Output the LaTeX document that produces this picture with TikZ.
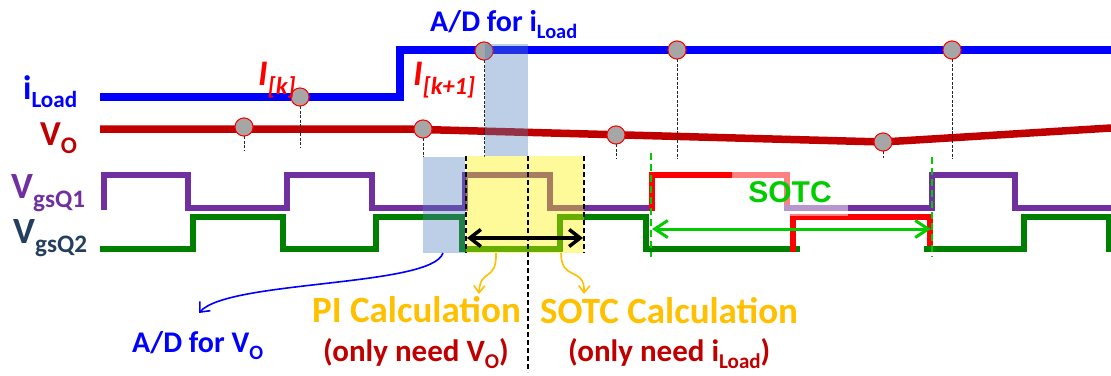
\documentclass[tikz,border=0pt]{standalone}
\usepackage{fontspec}
\setmainfont{Carlito}
\newfontfamily\arialfont{Liberation Sans}
\usetikzlibrary{arrows.meta}
\definecolor{cBlue}{RGB}{0,0,255}
\definecolor{cDRed}{RGB}{192,0,0}
\definecolor{cPurple}{RGB}{112,48,160}
\definecolor{cGreen}{RGB}{0,128,0}
\definecolor{cRed}{RGB}{255,0,0}
\definecolor{cSlate}{RGB}{36,62,96}
\definecolor{cGold}{RGB}{255,192,0}
\definecolor{cLime}{RGB}{0,204,0}
\definecolor{cGray}{RGB}{166,166,166}
\definecolor{cAD}{RGB}{79,129,189}
\newcommand{\lowsub}[1]{\raisebox{-0.25em}{\scalebox{0.68}{#1}}}
\newcommand{\fsz}[1]{\fontsize{#1}{#1}\selectfont}
\begin{document}
\begin{tikzpicture}[x=1pt,y=-1pt,
  sig/.style={line width=7.5pt,line join=miter},
  wave/.style={line width=6.5pt,line join=miter,line cap=rect},
  sample/.style={circle,draw=cRed,line width=0.9pt,fill=cGray,minimum size=18pt,inner sep=0pt},
  drop/.style={line width=1pt,dash pattern=on 3pt off 1.5pt,black!85},
  borderdash/.style={line width=1.8pt,dash pattern=on 5pt off 3pt,black},
  txt/.style={inner sep=0pt,anchor=base west,font=\bfseries},
  curvy/.style={line width=1.6pt},
]
\useasboundingbox (0,0) rectangle (1111,375);

% ---- iLoad and Vo ----
\draw[sig,cBlue] (100,97) -- (400,97) -- (400,50) -- (1111,50);
\draw[sig,cDRed] (100,129) -- (404,129) -- (883,142) -- (1111,128);

% ---- gate signals ----
\draw[wave,cPurple] (104,207) -- (104,175) -- (188,175) -- (188,208) -- (287,208) -- (287,175)
  -- (372,175) -- (372,208) -- (465,208) -- (465,175) -- (550,175) -- (550,208) -- (652,208);
\draw[wave,cRed] (652,208) -- (652,175) -- (787,175) -- (787,208);
\draw[wave,cPurple] (787,208) -- (932,208) -- (932,175) -- (1015,175) -- (1015,208) -- (1111,208);

\draw[wave,cGreen] (103,249) -- (193,249) -- (193,217) -- (283,217) -- (283,249) -- (376,249)
  -- (376,217) -- (462,217) -- (462,249) -- (560,249) -- (560,217) -- (646,217) -- (646,249) -- (797,249);
\draw[wave,cRed] (793,249) -- (793,217) -- (930,217) -- (930,249);
\draw[wave,cGreen] (927,249) -- (1024,249) -- (1024,217) -- (1109,217) -- (1109,249);

% ---- sample points ----
\node[sample] (s1) at (244,127) {};
\node[sample] (s2) at (300,97) {};
\node[sample] (s3) at (423,129) {};
\node[sample] (s4) at (484,51) {};
\node[sample] (s5) at (616,135) {};
\node[sample] (s6) at (677,50) {};
\node[sample] (s7) at (883,142) {};
\node[sample] (s8) at (952,50) {};
\coordinate (d1) at (244,150);
\coordinate (d2) at (300,148);
\coordinate (d3) at (423,157);
\coordinate (d4) at (484,157);
\coordinate (d5) at (616,159);
\coordinate (d6) at (677,159);
\coordinate (d7) at (883,158);
\coordinate (d8) at (952,159);
\foreach \i in {1,...,8} {\draw[drop] (s\i.south) -- (d\i);}
\foreach \i in {1,...,8} {\node[sample] at (s\i) {};}

% ---- shaded windows ----
\fill[cAD,opacity=0.38] (423,157) rectangle (465,253);
\fill[cAD,opacity=0.38] (485,44) rectangle (528,156);
\fill[yellow,opacity=0.4] (466,156) rectangle (584,253);
\fill[white,opacity=0.5] (732,161) rectangle (848,215.5);

% ---- black dashed borders and arrow ----
\coordinate (yl1) at (466,156); \coordinate (yl2) at (466,253);
\coordinate (yr1) at (584,156); \coordinate (yr2) at (584,253);
\coordinate (ym1) at (528,156); \coordinate (ym2) at (528,372);
\draw[borderdash] (yl1) -- (yl2);
\draw[borderdash] (yr1) -- (yr2);
\draw[borderdash] (ym1) -- (ym2);
\coordinate (ba1) at (467,238); \coordinate (ba2) at (583,238);
\draw[line width=3.5pt,{Straight Barb[length=11pt,width=17pt]}-{Straight Barb[length=11pt,width=17pt]}] (ba1) -- (ba2);

% ---- SOTC markers ----
\coordinate (g1a) at (651,153); \coordinate (g1b) at (651,257);
\coordinate (g2a) at (932,157); \coordinate (g2b) at (932,257);
\draw[cLime,line width=2.8pt,dash pattern=on 7pt off 4pt] (g1a) -- (g1b);
\draw[cLime,line width=2.8pt,dash pattern=on 7pt off 4pt] (g2a) -- (g2b);
\coordinate (ga1) at (652,229); \coordinate (ga2) at (931,229);
\draw[cLime,line width=3pt,{Straight Barb[length=13pt,width=17pt]}-{Straight Barb[length=13pt,width=17pt]}] (ga1) -- (ga2);
\node[inner sep=0pt,text=cLime,font=\arialfont\bfseries\fsz{30}] (sotc) at (790,192.5) {SOTC};

% ---- left labels ----
\node[txt,text=cBlue,font=\bfseries\fsz{34}] (lI) at (23,99) {i\lowsub{Load}};
\node[txt,text=cDRed,font=\bfseries\fsz{35}] (lV) at (40,145) {V\lowsub{O}};
\node[txt,text=cPurple,font=\bfseries\fsz{37}] (lQ1) at (11,198) {V\lowsub{gsQ1}};
\node[txt,text=cSlate,font=\bfseries\fsz{37}] (lQ2) at (13,243) {V\lowsub{gsQ2}};

% ---- I labels ----
\node[txt,text=cRed,font=\bfseries\itshape\fsz{36}] (ik) at (258,85) {I\lowsub{[k]}};
\node[txt,text=cRed,font=\bfseries\itshape\fsz{36}] (ik1) at (413,85) {I\lowsub{[k+1]}};

% ---- top label ----
\node[txt,text=cBlue,font=\bfseries\fsz{30}] (adi) at (430,31) {A/D for i\lowsub{Load}};

% ---- bottom labels ----
\node[txt,text=cBlue,font=\bfseries\fsz{30}] (adv) at (132,352) {A/D for V\lowsub{O}};
\node[txt,text=cGold,font=\bfseries\fsz{37}] (pic) at (312,322) {PI Calculation};
\node[txt,text=cGold,font=\bfseries\fsz{37}] (soc) at (540,323) {SOTC Calculation};
\node[txt,text=cDRed,font=\bfseries\fsz{31}] (pin) at (323,361) {(only need V\lowsub{O})};
\node[txt,text=cDRed,font=\bfseries\fsz{31}] (son) at (568,361) {(only need i\lowsub{Load})};

% ---- curved pointers ----
\coordinate (bv0) at (443,253); \coordinate (bv1) at (199,313);
\draw[curvy,cBlue,-{Straight Barb[length=8pt,width=14pt]}] (bv0) .. controls (432,287) and (228,280) .. (bv1);
\coordinate (gp0) at (496,253); \coordinate (gp1) at (479,294);
\draw[curvy,cGold,-{Straight Barb[length=7pt,width=11pt]}] (gp0) .. controls (497,282) and (480,268) .. (gp1);
\coordinate (gs0) at (561,253); \coordinate (gs1) at (584,294);
\draw[curvy,cGold,-{Straight Barb[length=7pt,width=11pt]}] (gs0) .. controls (561,282) and (585,266) .. (gs1);
\end{tikzpicture}
\end{document}
